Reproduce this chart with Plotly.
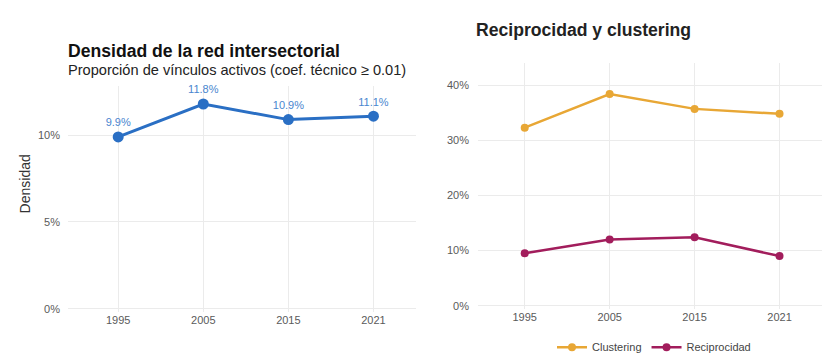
import plotly.graph_objects as go

years = ["1995", "2005", "2015", "2021"]
densidad = [0.099, 0.118, 0.109, 0.111]
densidad_labels = ["9.9%", "11.8%", "10.9%", "11.1%"]
clustering = [0.323, 0.384, 0.357, 0.348]
reciprocidad = [0.095, 0.120, 0.124, 0.090]

W, H = 823, 362
BLUE = "#2a6fc4"
ORANGE = "#e8a735"
MAGENTA = "#a21d5c"
GRID = "#ebebeb"
TICK = "#5a5a5a"
FONT = "Liberation Sans"

def px(v):
    return v / W

def py(v):
    return 1 - v / H

fig = go.Figure()

fig.add_trace(go.Scatter(
    x=years, y=densidad, mode="lines+markers+text",
    text=densidad_labels, textposition="top center",
    textfont=dict(color="#4a86cf", size=11, family=FONT),
    line=dict(color=BLUE, width=3), marker=dict(color=BLUE, size=11),
    showlegend=False, xaxis="x", yaxis="y", cliponaxis=False,
))

fig.add_trace(go.Scatter(
    x=years, y=clustering, mode="lines+markers", name="Clustering",
    line=dict(color=ORANGE, width=2.5), marker=dict(color=ORANGE, size=8),
    xaxis="x2", yaxis="y2",
))
fig.add_trace(go.Scatter(
    x=years, y=reciprocidad, mode="lines+markers", name="Reciprocidad",
    line=dict(color=MAGENTA, width=2.5), marker=dict(color=MAGENTA, size=8),
    xaxis="x2", yaxis="y2",
))

axis_common = dict(showgrid=True, gridcolor=GRID, gridwidth=1, zeroline=False,
                   showline=False, ticks="", tickfont=dict(size=11, color=TICK, family=FONT))

fig.update_layout(
    width=W, height=H,
    margin=dict(l=0, r=0, t=0, b=0),
    paper_bgcolor="white", plot_bgcolor="white",
    font=dict(family=FONT, color="#222222"),
    xaxis=dict(domain=[px(68), px(416)], anchor="y", type="category",
               range=[-0.59, 3.5], **axis_common),
    yaxis=dict(domain=[py(316), py(87)], anchor="x", range=[-0.0017, 0.1285],
               tickvals=[0, 0.05, 0.10], tickformat=".0%", ticklabelstandoff=7,
               **axis_common),
    xaxis2=dict(domain=[px(478), px(822)], anchor="y2", type="category",
                range=[-0.55, 3.5], **axis_common),
    yaxis2=dict(domain=[py(313), py(64)], anchor="x2", range=[-0.0054, 0.44],
                tickvals=[0, 0.1, 0.2, 0.3, 0.4], tickformat=".0%", ticklabelstandoff=8,
                **axis_common),
    legend=dict(orientation="h", x=px(654), xanchor="center", y=py(352), yanchor="middle",
                font=dict(size=11, color="#444444"), bgcolor="rgba(0,0,0,0)",
                itemwidth=30, tracegroupgap=0),
    annotations=[
        dict(text="<b>Densidad de la red intersectorial</b>", x=px(66), y=py(52),
             xref="paper", yref="paper", xanchor="left", yanchor="middle",
             showarrow=False, font=dict(size=17.6, color="#111111")),
        dict(text="Proporción de vínculos activos (coef. técnico ≥ 0.01)", x=px(66), y=py(71),
             xref="paper", yref="paper", xanchor="left", yanchor="middle",
             showarrow=False, font=dict(size=14.6, color="#222222")),
        dict(text="<b>Reciprocidad y clustering</b>", x=px(474), y=py(30),
             xref="paper", yref="paper", xanchor="left", yanchor="middle",
             showarrow=False, font=dict(size=17.6, color="#222222")),
        dict(text="Densidad", x=px(25), y=py(187), textangle=-90,
             xref="paper", yref="paper", xanchor="center", yanchor="middle",
             showarrow=False, font=dict(size=14, color="#333333")),
    ],
)

fig.write_html("out.html", post_script="document.body.style.margin='0';",
               config={"displayModeBar": False})
